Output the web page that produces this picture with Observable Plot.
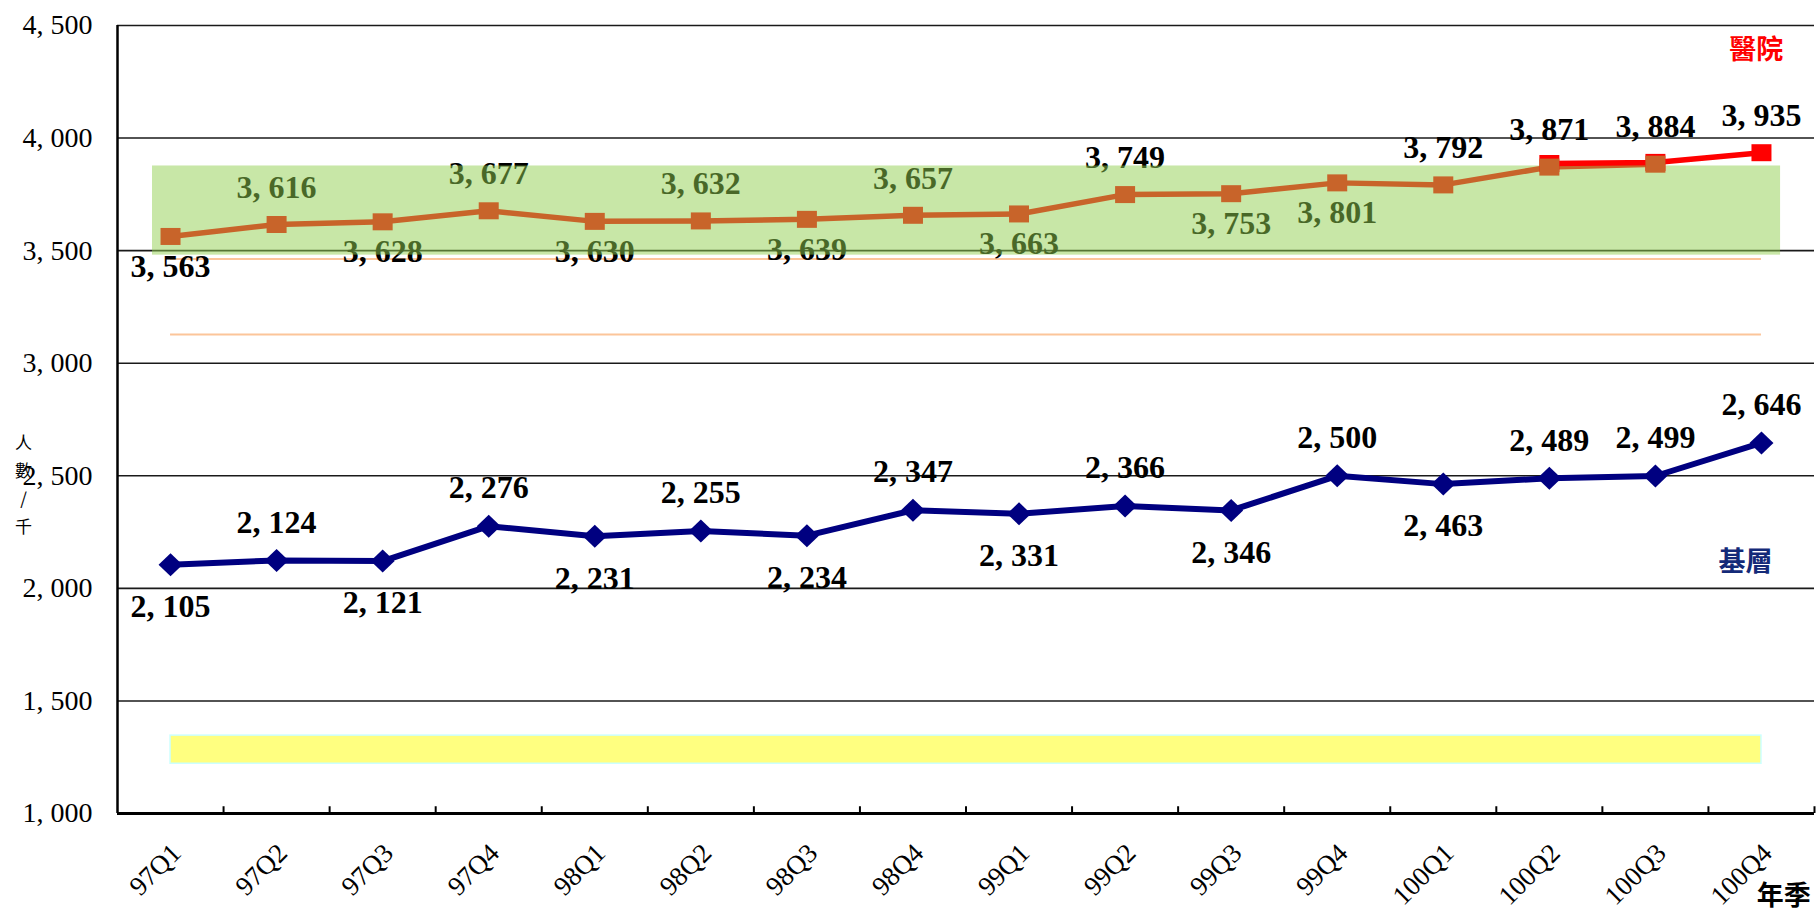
<!DOCTYPE html>
<html><head><meta charset="utf-8">
<script src="https://cdn.jsdelivr.net/npm/d3@7"></script>
<script src="https://cdn.jsdelivr.net/npm/@observablehq/plot@0.6"></script>
<style>html,body{margin:0;padding:0;background:#fff;overflow:hidden}</style>
</head><body><div id="chart"></div>
<script>
// ---- data ----
const quarters = ["97Q1","97Q2","97Q3","97Q4","98Q1","98Q2","98Q3","98Q4","99Q1","99Q2","99Q3","99Q4","100Q1","100Q2","100Q3","100Q4"];
const hospital = [3563,3616,3628,3677,3630,3632,3639,3657,3663,3749,3753,3801,3792,3871,3884,3935];
const primary  = [2105,2124,2121,2276,2231,2255,2234,2347,2331,2366,2346,2500,2463,2489,2499,2646];
const hospitalLabelSide = ["below","above","below","above","below","above","below","above","below","above","below","below","above","above","above","above"];
const primaryLabelSide  = ["below","above","below","above","below","above","below","above","below","above","below","above","below","above","above","above"];
const hospitalRecentQ = [13, 14, 15];
const hospitalRecentV = [3887, 3892, 3935];
const yTicks = [1000,1500,2000,2500,3000,3500,4000,4500];
const hospitalBand = [{x1:-0.17, x2:15.18, y1:3480, y2:3876}];
const primaryBand  = [{x1:0, x2:15, y1:1221, y2:1346}];
const refLines = [3463, 3127];
const seriesNames = [{name:"醫院", x:14.95, y:4389, color:"#ff0000"},{name:"基層", x:14.85, y:2114, color:"#142a78"}];

// ---- helpers ----
const idx = d3.range(quarters.length);
const fmt = d => d3.format(",")(d).replace(",", ", ");
const sq = {draw(ctx){ ctx.rect(-10,-8.5,20,17); }};
const dia = {draw(ctx){ ctx.moveTo(0,-11.5); ctx.lineTo(12,0); ctx.lineTo(0,11.5); ctx.lineTo(-12,0); ctx.closePath(); }};
const labelFont = {fontFamily:"Liberation Serif", fontSize:32, fontWeight:"bold", fill:"#000"};
const hospIdx = idx.slice(0, 15);

const chart = Plot.plot({
  width: 1818, height: 912,
  marginLeft: 117, marginRight: 4, marginTop: 25, marginBottom: 99,
  style: {fontFamily: "Liberation Serif", background: "#fff", overflow: "visible"},
  x: {type: "linear", domain: [-0.5, 15.5], axis: null},
  y: {domain: [1000, 4500], axis: null},
  marks: [
    Plot.ruleY(yTicks.filter(d => d > 1000), {x1: -0.5, x2: 15.5, stroke: "#1a1a1a", strokeWidth: 1.6}),
    Plot.rect(primaryBand, {x1:"x1", x2:"x2", y1:"y1", y2:"y2", fill:"#ffff80", stroke:"#ccffff", strokeWidth:1.5}),
    Plot.ruleY(refLines, {x1: 0, x2: 15, stroke: "#fcc59a", strokeWidth: 2}),
    // hospital labels (under the translucent band)
    Plot.text(idx.filter(i => hospitalLabelSide[i] === "above"), {x: i => i, y: i => hospital[i], text: i => fmt(hospital[i]), dy: -37, ...labelFont}),
    Plot.text(idx.filter(i => hospitalLabelSide[i] === "below"), {x: i => i, y: i => hospital[i], text: i => fmt(hospital[i]), dy: 30, ...labelFont}),
    Plot.rect(hospitalBand, {x1:"x1", x2:"x2", y1:"y1", y2:"y2", fill:"#92D050", fillOpacity:0.5}),
    // axes frame
    Plot.ruleX([-0.5], {y1: 1000, y2: 4500, stroke: "#000", strokeWidth: 2.5}),
    Plot.ruleY([1000], {x1: -0.5, x2: 15.5, stroke: "#000", strokeWidth: 3}),
    Plot.ruleX(d3.range(0.5, 15.6, 1), {y1: 1000, y2: 1030, stroke: "#000", strokeWidth: 2}),
    // primary care series
    Plot.line(idx, {x: i => i, y: i => primary[i], stroke: "#000080", strokeWidth: 6, strokeLinejoin: "round"}),
    Plot.dot(idx, {x: i => i, y: i => primary[i], symbol: dia, r: 10, fill: "#000080", stroke: "none"}),
    Plot.text(idx.filter(i => primaryLabelSide[i] === "above"), {x: i => i, y: i => primary[i], text: i => fmt(primary[i]), dy: -38, ...labelFont}),
    Plot.text(idx.filter(i => primaryLabelSide[i] === "below"), {x: i => i, y: i => primary[i], text: i => fmt(primary[i]), dy: 42, ...labelFont}),
    // hospital series
    Plot.line(hospIdx, {x: i => i, y: i => hospital[i], stroke: "#c8642a", strokeWidth: 5.5, strokeLinejoin: "round"}),
    Plot.line(hospitalRecentQ, {x: (d) => d, y: (d, j) => hospitalRecentV[j], stroke: "#ff0000", strokeWidth: 5.5, strokeLinejoin: "round"}),
    Plot.dot(hospitalRecentQ, {x: d => d, y: (d, j) => hospitalRecentV[j], symbol: sq, r: 10, fill: "#ff0000", stroke: "none"}),
    Plot.dot(hospIdx, {x: i => i, y: i => hospital[i], symbol: sq, r: 10, fill: "#c8642a", stroke: "none"}),
    // y tick labels
    Plot.text(yTicks, {x: -0.5, y: d => d, text: fmt, textAnchor: "end", dx: -25, fontSize: 28, fill: "#000"}),
    // x tick labels
    Plot.text(idx, {x: i => i, y: 1000, text: i => quarters[i], rotate: -45, textAnchor: "end", dx: 6, dy: 35, fontSize: 27, fill: "#000"}),
    // series names
    Plot.text(seriesNames, {x: "x", y: "y", text: "name", fill: "color", fontFamily: "Noto Sans CJK TC", fontWeight: "bold", fontSize: 27, letterSpacing: 6}),
    // axis titles
    Plot.text(["人\n數\n/\n千"], {x: -0.5, y: 2474, text: d => d, dx: -94, fontFamily: "Noto Sans CJK TC", fontSize: 17, lineHeight: 1.65, fill: "#000"}),
    Plot.text(["年季"], {x: 15.21, y: 1000, text: d => d, dy: 83, fontFamily: "Noto Sans CJK TC", fontWeight: "bold", fontSize: 27, fill: "#000"})
  ]
});
document.getElementById("chart").appendChild(chart);
</script>
</body></html>
